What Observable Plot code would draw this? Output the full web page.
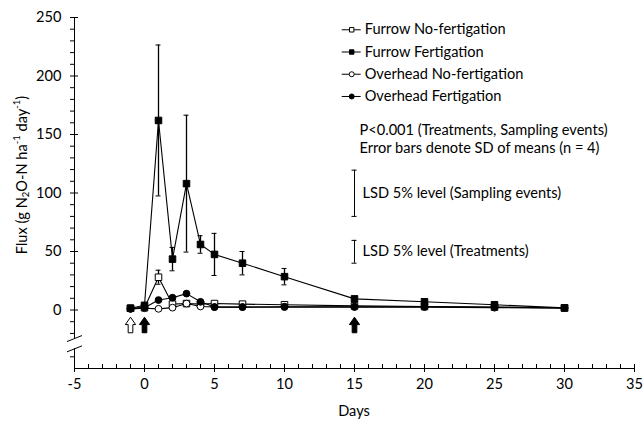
<!DOCTYPE html>
<html><head><meta charset="utf-8">
<script src="https://cdn.jsdelivr.net/npm/d3@7"></script>
<script src="https://cdn.jsdelivr.net/npm/@observablehq/plot@0.6"></script>
<style>body{margin:0;background:#fff} svg{display:block}</style>
</head><body><div id="chart"></div>
<script>
// ---- data ----
const days = [-1, 0, 1, 2, 3, 4, 5, 7, 10, 15, 20, 25, 30];
const furrowNoFert   = [1.5, 2, 28, 5, 5.5, 5, 5.5, 5, 4.5, 3.5, 3, 2.5, 1.8];
const furrowNoFertSD = [0, 0, 6, 0, 0, 0, 0, 0, 0, 0, 0, 0, 0];
const furrowFert     = [1.5, 4, 162, 43.5, 108, 56, 47.5, 40, 28.5, 9.5, 7, 4.5, 1.8];
const furrowFertSD   = [0, 0, 64.5, 10, 58.5, 7.5, 18, 10, 7, 1.5, 2.5, 2, 0.5];
const overheadNoFert = [1, 1.5, 1, 2, 5.5, 3, 2.5, 2.5, 2.5, 2.5, 2.5, 2, 1.8];
const overheadFert   = [1, 2, 8.5, 10.5, 14, 7, 2.5, 2.5, 2.8, 2.8, 2.8, 2.4, 1.8];
const seriesNames = ["Furrow No-fertigation", "Furrow Fertigation", "Overhead No-fertigation", "Overhead Fertigation"];
const seriesSymbols = ["square", "square", "circle", "circle"];
const seriesFills = ["white", "black", "white", "black"];
const xTickLabels = [-5, 0, 5, 10, 15, 20, 25, 30, 35];
const yTickLabels = [0, 50, 100, 150, 200, 250];
const fertEventDays = [-1, 0, 15];
const fertEventFills = ["white", "black", "black"];
const lsdLabels = ["LSD 5% level (Sampling events)", "LSD 5% level (Treatments)"];
const lsdLow = [80, 40];
const lsdHigh = [119.5, 59.5];
const noteLines = ["P<0.001 (Treatments, Sampling events)", "Error bars denote SD of means (n = 4)"];

// ---- layout constants (pixels) ----
const W = 644, H = 423, ML = 74, MR = 10, MT = 17, MB = 55;
const xDom = [-5, 35], yDom = [-50, 250];
const pxX = (xDom[1] - xDom[0]) / (W - ML - MR);   // data per px
const pxY = (yDom[1] - yDom[0]) / (H - MT - MB);
const FONT = "Lato, 'Open Sans', sans-serif";
const FS = 14.6;

const allSeries = [furrowNoFert, furrowFert, overheadNoFert, overheadFert].map((vals, k) =>
  days.map((d, i) => ({day: d, value: vals[i], series: seriesNames[k]})));
const sdSeries = [[furrowNoFert, furrowNoFertSD], [furrowFert, furrowFertSD]].flatMap(([v, sd]) =>
  days.map((d, i) => ({day: d, lo: v[i] - sd[i], hi: v[i] + sd[i], sd: sd[i]})).filter(e => e.sd > 0));

const xMinor = d3.range(xDom[0], xDom[1] + 1).filter(d => !xTickLabels.includes(d));
const yMinor = d3.range(-40, 251, 10).filter(d => !yTickLabels.includes(d) && d !== -30);
const breakUpper = -24.4, breakLower = -33.2;
const events = fertEventDays.map((d, i) => ({day: d, fill: fertEventFills[i]}));
const lsd = lsdLabels.map((t, i) => ({label: t, lo: lsdLow[i], hi: lsdHigh[i], mid: (lsdLow[i] + lsdHigh[i]) / 2}));

// block arrow symbol
const blockArrow = {
  draw(ctx, size) {
    const r = Math.sqrt(size / Math.PI);
    const hw = 0.66 * r, sw = 0.3 * r, hb = -0.05 * r;
    ctx.moveTo(0, -r);
    ctx.lineTo(hw, hb);
    ctx.lineTo(sw, hb);
    ctx.lineTo(sw, r);
    ctx.lineTo(-sw, r);
    ctx.lineTo(-sw, hb);
    ctx.lineTo(-hw, hb);
    ctx.closePath();
  }
};

// legend in data space
const legX = 14.8, legY0 = 239.5, legStep = 19;
const legend = seriesNames.map((n, i) => ({name: n, y: legY0 - i * legStep, symbol: seriesSymbols[i], fill: seriesFills[i]}));

const cap = 2.5 * pxX;

const marks = [
  // x axis
  Plot.ruleY([yDom[0]], {x1: xDom[0], x2: xDom[1], stroke: "black"}),
  Plot.axisX({ticks: xTickLabels, tickSize: 4, tickPadding: 6, label: null, tickFormat: d => String(d), fontSize: FS}),
  Plot.ruleX(xTickLabels, {x: d => d, y1: yDom[0], y2: yDom[0] + 4 * pxY, stroke: "black"}),
  Plot.ruleX(xMinor, {x: d => d, y1: yDom[0], y2: yDom[0] + 4 * pxY, stroke: "black"}),
  // y axis with break
  Plot.ruleX([xDom[0]], {y1: yDom[0], y2: breakLower, stroke: "black"}),
  Plot.ruleX([xDom[0]], {y1: breakUpper, y2: yDom[1], stroke: "black"}),
  Plot.axisY({ticks: yTickLabels, tickSize: 4, tickPadding: 9, label: null, tickFormat: d => String(d), fontSize: FS}),
  Plot.ruleY(yTickLabels, {y: d => d, x1: xDom[0], x2: xDom[0] + 4 * pxX, stroke: "black"}),
  Plot.ruleY(yMinor, {y: d => d, x1: xDom[0] - 4 * pxX, x2: xDom[0], stroke: "black"}),
  Plot.link([breakUpper, breakLower], {x1: xDom[0] - 7.5 * pxX, x2: xDom[0] + 7.5 * pxX, y1: d => d - 3 * pxY, y2: d => d + 3 * pxY, stroke: "black", strokeWidth: 1}),
  // series lines
  ...allSeries.map(s => Plot.line(s, {x: "day", y: "value", stroke: "black", strokeWidth: 1.1})),
  // error bars
  Plot.ruleX(sdSeries, {x: "day", y1: "lo", y2: "hi", stroke: "black", strokeWidth: 1.3}),
  Plot.ruleY(sdSeries, {y: "lo", x1: d => d.day - cap, x2: d => d.day + cap, stroke: "black"}),
  Plot.ruleY(sdSeries, {y: "hi", x1: d => d.day - cap, x2: d => d.day + cap, stroke: "black"}),
  // markers
  ...allSeries.map((s, k) => Plot.dot(s, {x: "day", y: "value", symbol: seriesSymbols[k], r: seriesSymbols[k] === "square" ? 3.7 : 3.4, fill: seriesFills[k], stroke: "black", strokeWidth: 1})),
  // fertigation event arrows
  Plot.dot(events, {x: "day", y: -12.8, symbol: blockArrow, r: 7.8, fill: "fill", stroke: "black", strokeWidth: 1}),
  // LSD bars
  Plot.ruleX(lsd, {x: 15, y1: "lo", y2: "hi", stroke: "black"}),
  Plot.ruleY(lsd, {y: "lo", x1: 15 - cap, x2: 15 + cap, stroke: "black"}),
  Plot.ruleY(lsd, {y: "hi", x1: 15 - cap, x2: 15 + cap, stroke: "black"}),
  Plot.text(lsd, {x: 15, y: "mid", text: "label", dx: 8, textAnchor: "start", fontSize: FS, fill: "black"}),
  // note
  Plot.text(noteLines, {x: 15, y: (d, i) => 153.5 - i * 15, text: d => d, dx: 5, textAnchor: "start", fontSize: FS, fill: "black"}),
  // legend
  Plot.ruleY(legend, {y: "y", x1: legX - 9.5 * pxX, x2: legX + 9.5 * pxX, stroke: "black"}),
  Plot.dot(legend, {x: legX, y: "y", symbol: "symbol", r: 2.5, fill: "fill", stroke: "black", strokeWidth: 1}),
  Plot.text(legend, {x: legX, y: "y", text: "name", dx: 13, textAnchor: "start", fontSize: FS, fill: "black"})
];

const chart = Plot.plot({
  width: W, height: H,
  marginLeft: ML, marginRight: MR, marginTop: MT, marginBottom: MB,
  x: {domain: xDom},
  y: {domain: yDom},
  symbol: {type: "identity"},
  style: {fontFamily: FONT, fontSize: FS + "px", color: "black", background: "white", overflow: "visible"},
  marks
});

const svg = d3.select(chart);
svg.append("text")
  .attr("x", (ML + W - MR) / 2).attr("y", 410)
  .attr("text-anchor", "middle").attr("dominant-baseline", "central")
  .attr("font-size", FS).attr("font-family", FONT).attr("fill", "black")
  .text("Days");
const yl = svg.append("text")
  .attr("transform", "translate(21,175) rotate(-90)")
  .attr("text-anchor", "middle").attr("dominant-baseline", "central")
  .attr("font-size", FS).attr("font-family", FONT).attr("fill", "black");
yl.append("tspan").text("Flux (g N");
yl.append("tspan").attr("font-size", FS * 0.65).attr("dy", 4).text("2");
yl.append("tspan").attr("dy", -4).text("O-N ha");
yl.append("tspan").attr("font-size", FS * 0.65).attr("dy", -5).text("-1");
yl.append("tspan").attr("dy", 5).text(" day");
yl.append("tspan").attr("font-size", FS * 0.65).attr("dy", -5).text("-1");
yl.append("tspan").attr("dy", 5).text(")");

document.getElementById("chart").appendChild(chart);
</script>
</body></html>
